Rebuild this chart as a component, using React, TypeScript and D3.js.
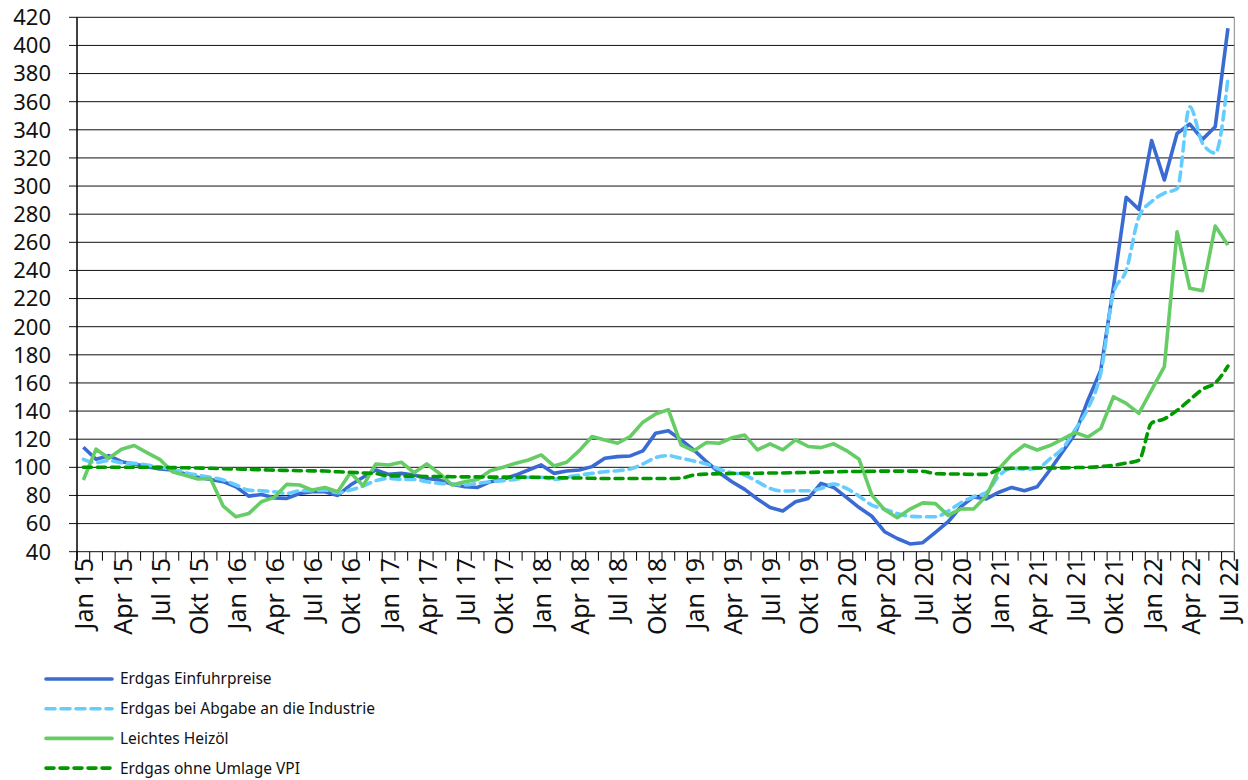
import React from "react";
import * as d3 from "d3";

const monthNames = ["Jan", "Feb", "Mär", "Apr", "Mai", "Jun", "Jul", "Aug", "Sep", "Okt", "Nov", "Dez"];
const months: string[] = [];
for (let y = 15; y <= 22; y++) {
  for (let m = 0; m < 12; m++) {
    if (y === 22 && m > 6) break;
    months.push(`${monthNames[m]} ${y}`);
  }
}

const yTicks = [40, 60, 80, 100, 120, 140, 160, 180, 200, 220, 240, 260, 280, 300, 320, 340, 360, 380, 400, 420];

const erdgasEinfuhr = [
  114.3, 105.7, 108.3, 104, 102.4, 100.5, 98.8, 98.1, 95.2, 92.9, 91.4, 89.8,
  86.2, 79.5, 80.7, 78.3, 77.9, 81.4, 82.6, 82.6, 80, 87.4, 92.9, 98.1,
  95, 95.7, 94.5, 92.1, 91, 87.9, 86.2, 85.7, 89.8, 91.4, 94.5, 98.1,
  101.7, 95.7, 97.4, 98.1, 100.5, 106.4, 107.6, 108.1, 111.7, 124.3, 126, 119.5,
  112.4, 104, 96.2, 89.8, 84.3, 77.5, 71.4, 69, 75.5, 77.9, 88.6, 85.7,
  78.6, 71.4, 65.2, 54.2, 49.4, 45.5, 46.4, 53.7, 61.3, 72, 79, 77.5,
  82.3, 85.7, 83.3, 86.2, 98.1, 111.1, 124.1, 147.9, 169, 228.4, 292, 283.4,
  332.4, 304.3, 337.4, 344.1, 333.2, 342.2, 412.2,
];

const erdgasIndustrie = [
  105.7, 103.3, 104.8, 103.3, 102.9, 101.7, 100, 98.6, 96.2, 94.5, 92.9, 91,
  87.4, 83.8, 83.3, 82.6, 81.4, 83.3, 83.3, 83.8, 81.9, 83.8, 86.7, 90.5,
  92.1, 91.4, 91.4, 89.8, 88.6, 88.1, 87.4, 88.6, 89.8, 90.5, 91.4, 92.9,
  92.9, 91.4, 92.9, 94.5, 95.7, 96.9, 97.6, 98.8, 102.4, 106.9, 108.3, 106.4,
  104.5, 102.4, 98.6, 96.2, 94.5, 89.8, 85, 83.1, 83.3, 83.3, 85, 88.1,
  85, 79.5, 73.1, 70.3, 67.1, 65.2, 64.8, 64.8, 68.9, 74.8, 79.1, 82,
  94, 99.3, 98.6, 99.3, 106, 113.5, 127, 142, 167, 224, 240, 278,
  289, 295, 298, 356.4, 330.4, 323.5, 376.6,
];

const heizoel = [
  91, 112.9, 106.4, 112.9, 115.5, 110.5, 105.7, 96.9, 94.3, 91.7, 92.1, 72.4,
  64.8, 67.1, 75.5, 78.6, 87.9, 87.4, 83.8, 85.7, 82.6, 96.2, 86.9, 102.4,
  101.7, 103.6, 96.2, 102.4, 95.7, 87.4, 89.8, 91.4, 97.6, 100, 102.9, 105.2,
  108.8, 101, 103.6, 111.9, 121.9, 119.5, 117.1, 121.9, 132.1, 137.9, 141, 115.9,
  111.7, 117.6, 117.1, 121, 122.9, 112.4, 116.7, 112.4, 119.5, 114.8, 114, 116.7,
  111.9, 105.7, 80.2, 69.8, 64.2, 70.3, 74.7, 74.2, 65.8, 70.5, 70.4, 79.6,
  99, 109, 115.9, 112.3, 115.5, 120, 124.8, 121.5, 127.7, 150.2, 145.5, 138.4,
  155, 171.6, 267.5, 227.3, 225.6, 271.6, 258,
];

const erdgasVPI = [
  100, 100, 100, 100, 100, 100, 100, 99.8, 99.7, 99.5, 99.3, 99,
  98.8, 98.5, 98.3, 98, 97.8, 97.6, 97.5, 97.4, 96.8, 96.5, 96, 95.5,
  94, 93.8, 93.6, 93.5, 93.5, 93.3, 93.2, 93.2, 93, 93, 93, 93,
  92.8, 92.6, 92.5, 92.4, 92.2, 92, 92, 92, 92, 92, 92, 92.3,
  94.5, 95.2, 95.4, 95.6, 95.7, 95.8, 96, 96, 96.2, 96.4, 96.6, 96.8,
  97, 97, 97.2, 97.3, 97.3, 97.3, 97.2, 95.5, 95.3, 95.2, 95, 95,
  98.5, 99.3, 99.5, 99.5, 99.5, 99.6, 99.8, 100, 100.5, 101.5, 103, 105,
  131.5, 134.5, 140.5, 148, 155.5, 160, 172,
];

const seriesNames = [
  "Erdgas Einfuhrpreise",
  "Erdgas bei Abgabe an die Industrie",
  "Leichtes Heizöl",
  "Erdgas ohne Umlage VPI",
];

const W = 1248;
const H = 780;
const left = 77;
const right = 1234.3;
const top = 17.3;
const bottom = 551.7;
const font = "'Noto Sans', 'Open Sans', sans-serif";

export default function App() {
  const x = d3.scaleBand<number>().domain(d3.range(months.length)).range([left, right]).padding(0);
  const y = d3.scaleLinear().domain([40, 420]).range([bottom, top]);
  const cx = (i: number) => (x(i) as number) + x.bandwidth() / 2;

  const straight = d3.line<number>().x((_, i) => cx(i)).y((d) => y(d));
  const smooth = d3
    .line<number>()
    .x((_, i) => cx(i))
    .y((d) => y(d))
    .curve(d3.curveMonotoneX);

  const styles = [
    { color: "#3a6bd2", dash: undefined as string | undefined, data: erdgasEinfuhr, gen: straight },
    { color: "#66ccff", dash: "9,6", data: erdgasIndustrie, gen: smooth },
    { color: "#66cc66", dash: undefined, data: heizoel, gen: straight },
    { color: "#009900", dash: "8,6", data: erdgasVPI, gen: smooth },
  ];

  const boundaries = d3.range(months.length + 1).map((k) => left + k * x.bandwidth());

  return (
    <svg width={W} height={H} style={{ position: "absolute", left: 0, top: 0, background: "#fff" }} fontFamily={font}>
      {yTicks.map((t) => (
        <line key={"g" + t} x1={left - 8} x2={right} y1={y(t)} y2={y(t)} stroke="#111" strokeWidth={1} />
      ))}
      <line x1={right} x2={right} y1={top} y2={bottom} stroke="#888" strokeWidth={1} />
      <line x1={left} x2={left} y1={top} y2={bottom + 9} stroke="#000" strokeWidth={1.5} />
      {yTicks.map((t) => (
        <text key={"yl" + t} x={51} y={y(t)} dy="0.36em" textAnchor="end" fontSize={22} fill="#111">
          {t}
        </text>
      ))}
      {boundaries.map((b, k) => (
        <line key={"xt" + k} x1={b} x2={b} y1={bottom} y2={bottom + 9} stroke="#000" strokeWidth={1} />
      ))}
      {months.map((m, i) =>
        i % 3 === 0 ? (
          <text
            key={"xl" + i}
            transform={`translate(${cx(i) + 1},${558}) rotate(-90)`}
            dy="0.36em"
            textAnchor="end"
            fontSize={25}
            fill="#111"
          >
            {m}
          </text>
        ) : null
      )}
      {styles.map((s, k) => (
        <path
          key={"s" + k}
          d={s.gen(s.data) || ""}
          fill="none"
          stroke={s.color}
          strokeWidth={3.6}
          strokeDasharray={s.dash}
          strokeLinecap={s.dash ? "round" : "butt"}
          strokeLinejoin="round"
        />
      ))}
      {seriesNames.map((n, k) => {
        const ly = 679 + k * 29.7;
        const s = styles[k];
        return (
          <g key={"lg" + k}>
            <line
              x1={46}
              x2={112}
              y1={ly}
              y2={ly}
              stroke={s.color}
              strokeWidth={3.6}
              strokeDasharray={s.dash}
              strokeLinecap="round"
            />
            <text x={120} y={ly} dy="0.35em" fontSize={15.5} fill="#111">
              {n}
            </text>
          </g>
        );
      })}
    </svg>
  );
}
